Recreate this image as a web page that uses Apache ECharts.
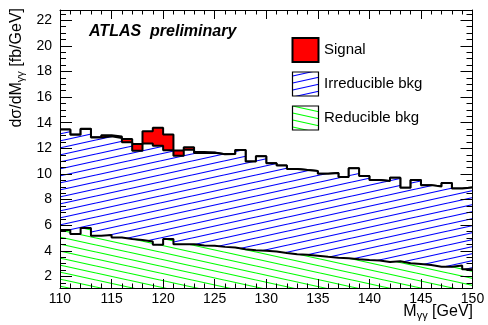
<!DOCTYPE html>
<html>
<head>
<meta charset="utf-8">
<script src="https://cdn.jsdelivr.net/npm/echarts@6/dist/echarts.min.js"></script>
<style>
html, body { margin: 0; padding: 0; background: #fff; }
#chart { width: 488px; height: 325px; }
</style>
</head>
<body>
<div id="chart"></div>
<script>
// bin edges of the 1 GeV histogram, 110 - 150 GeV
var binEdges = [110, 111, 112, 113, 114, 115, 116, 117, 118, 119, 120, 121, 122, 123, 124, 125, 126, 127, 128, 129,
	130, 131, 132, 133, 134, 135, 136, 137, 138, 139, 140, 141, 142, 143, 144, 145, 146, 147, 148, 149, 150];

// stacked heights (fb/GeV)
var reducibleTop = [5.63, 5.31, 5.79, 5.18, 5.23, 5.05, 4.92, 4.84, 4.73, 4.47, 4.92, 4.52, 4.52, 4.42, 4.39, 4.31, 4.26, 4.13, 4.05, 4.00,
	3.95, 3.84, 3.74, 3.69, 3.61, 3.53, 3.47, 3.43, 3.35, 3.29, 3.25, 3.13, 3.19, 3.04, 2.97, 2.89, 2.76, 2.76, 2.86, 2.56];
var irreducibleTop = [13.47, 13.07, 13.51, 12.84, 12.95, 12.80, 12.48, 11.82, 12.37, 12.21, 11.85, 11.42, 11.90, 11.64, 11.65, 11.54, 11.55, 11.87, 10.97, 11.39,
	10.84, 10.66, 10.39, 10.31, 10.24, 10.02, 10.08, 9.76, 10.44, 9.84, 9.53, 9.45, 9.71, 8.92, 9.53, 9.13, 9.02, 9.29, 8.86, 8.94];
var signalTop = [13.48, 13.08, 13.53, 12.87, 13.03, 12.92, 12.74, 12.34, 13.34, 13.60, 13.08, 11.84, 12.08, 11.71, 11.68, 11.55, 11.55, 11.87, 10.97, 11.39,
	10.84, 10.66, 10.39, 10.31, 10.24, 10.02, 10.08, 9.76, 10.44, 9.84, 9.53, 9.45, 9.71, 8.92, 9.53, 9.13, 9.02, 9.29, 8.86, 8.94];

var legendNames = ['Signal', 'Irreducible bkg', 'Reducible bkg'];
var xRange = [110, 150];
var yRange = [1.1, 22.8];

var FONT = '"Liberation Sans", Arial, Helvetica, sans-serif';

// hatch tile as data url, dir > 0 rising lines, dir < 0 falling lines
function hatch(color, dir) {
	var w = 32, h = 7;
	var c = document.createElement('canvas');
	c.width = w;
	c.height = h;
	var ctx = c.getContext('2d');
	ctx.fillStyle = '#fff';
	ctx.fillRect(0, 0, w, h);
	ctx.strokeStyle = color;
	ctx.lineWidth = 1.1;
	for(var k = -1; k <= 1; k++) {
		ctx.beginPath();
		if(dir > 0) {
			ctx.moveTo(0, h + k * h);
			ctx.lineTo(w, k * h);
		} else {
			ctx.moveTo(0, k * h);
			ctx.lineTo(w, h + k * h);
		}
		ctx.stroke();
	}
	return c.toDataURL();
}

var blueUrl = hatch('#0000ff', 1);
var greenUrl = hatch('#00ff00', -1);

function pattern(url) {
	return { image: url, repeat: 'repeat' };
}

function stepData(arr) {
	var out = [];
	for(var i = 0; i < binEdges.length; i++) {
		out.push([binEdges[i], arr[Math.min(i, arr.length - 1)]]);
	}
	return out;
}

function histSeries(name, arr, fill, z) {
	return {
		name: name,
		type: 'line',
		step: 'end',
		symbol: 'none',
		silent: true,
		z: z,
		data: stepData(arr),
		itemStyle: { color: '#000' },
		lineStyle: { color: '#000', width: 2 },
		areaStyle: { color: fill, opacity: 1, origin: 'start' }
	};
}

var mctx = document.createElement('canvas').getContext('2d');
function textWidth(str, size) {
	mctx.font = size + 'px ' + FONT;
	return mctx.measureText(str).width;
}

function txt(str, x, y, size, font) {
	return {
		type: 'text',
		x: x,
		y: y,
		style: {
			text: str,
			fill: '#000',
			font: font || (size + 'px ' + FONT),
			textAlign: 'left',
			textVerticalAlign: 'middle'
		}
	};
}

// y title, rotated, right aligned to the top of the axis
var yw1 = textWidth('dσ/dM', 16), yw2 = textWidth('γγ', 11), yw3 = textWidth(' [fb/GeV]', 16);
var yTot = yw1 + yw2 + yw3;
var yTitle = {
	type: 'group',
	x: 17,
	y: 8,
	rotation: Math.PI / 2,
	children: [
		txt('dσ/dM', -yTot, 0, 16),
		txt('γγ', -yTot + yw1, 4, 11),
		txt(' [fb/GeV]', -yTot + yw1 + yw2, 0, 16)
	]
};

// x title, right aligned to the end of the axis
var xw1 = textWidth('M', 16), xw2 = textWidth('γγ', 11), xw3 = textWidth(' [GeV]', 16);
var xStart = 473 - (xw1 + xw2 + xw3);

var legendFills = ['#ff0000', pattern(blueUrl), pattern(greenUrl)];
var legendItems = [];
for(var i = 0; i < legendNames.length; i++) {
	var boxTop = 38 + i * 34;
	legendItems.push({
		type: 'rect',
		shape: { x: 292.5, y: boxTop, width: 26, height: 24 },
		style: { fill: legendFills[i], stroke: '#000', lineWidth: i == 0 ? 2 : 1.2 }
	});
	legendItems.push(txt(legendNames[i], 324, boxTop + 12, 15));
}

function axisCommon(pos, showLabel) {
	return {
		type: 'value',
		position: pos,
		z: 10,
		splitLine: { show: false },
		axisLine: { show: true, onZero: false, lineStyle: { color: '#000', width: 1 } },
		axisLabel: {
			show: showLabel,
			color: '#000',
			fontSize: 14,
			fontFamily: FONT
		},
		minorTick: { show: true, lineStyle: { color: '#000', width: 1 } },
		axisTick: { show: true, inside: true, lineStyle: { color: '#000', width: 1 } }
	};
}

function xAxisOf(pos, showLabel) {
	var a = axisCommon(pos, showLabel);
	a.min = xRange[0];
	a.max = xRange[1];
	a.interval = 5;
	a.axisTick.length = 9;
	a.minorTick.splitNumber = 5;
	a.minorTick.length = 4.5;
	a.axisLabel.margin = 4;
	return a;
}

function yAxisOf(pos, showLabel) {
	var a = axisCommon(pos, showLabel);
	a.min = yRange[0];
	a.max = yRange[1];
	a.splitNumber = 10;
	a.axisTick.length = 12;
	a.minorTick.splitNumber = 4;
	a.minorTick.length = 6;
	a.axisLabel.margin = 8;
	a.axisLabel.formatter = function(v) {
		var r = Math.round(v);
		return(Math.abs(v - r) < 1e-6 && r % 2 == 0) ? String(r) : '';
	};
	return a;
}

var graphics = [
	txt('ATLAS  preliminary', 89, 32, 16, 'italic bold 16px ' + FONT),
	yTitle,
	txt('M', xStart, 312, 16),
	txt('γγ', xStart + xw1, 316, 11),
	txt(' [GeV]', xStart + xw1 + xw2, 312, 16)
].concat(legendItems);

for(var g = 0; g < graphics.length; g++) {
	graphics[g].z = 20;
}

var chart = echarts.init(document.getElementById('chart'), null, { renderer: 'canvas' });
chart.setOption({
	animation: false,
	backgroundColor: '#fff',
	grid: { left: 60, right: 15.5, top: 10, bottom: 37 },
	xAxis: [xAxisOf('bottom', true), xAxisOf('top', false)],
	yAxis: [yAxisOf('left', true), yAxisOf('right', false)],
	series: [
		histSeries(legendNames[0], signalTop, '#ff0000', 2),
		histSeries(legendNames[1], irreducibleTop, pattern(blueUrl), 3),
		histSeries(legendNames[2], reducibleTop, pattern(greenUrl), 4)
	],
	graphic: graphics
});
</script>
</body>
</html>
